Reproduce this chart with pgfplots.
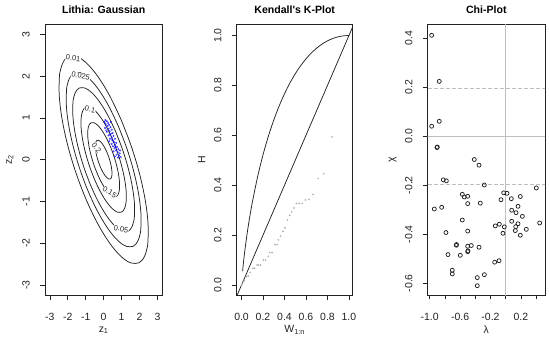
\documentclass[border=0pt]{standalone}
\usepackage{pgfplots}
\pgfplotsset{compat=1.18}
\usepackage{fontspec}
\setmainfont{Liberation Sans}
\definecolor{rgray}{HTML}{BEBEBE}
\definecolor{ink}{HTML}{222222}
\tikzset{lab/.style={fill=white, inner sep=0.4bp, font=\fontsize{7.5}{9}\selectfont, text=ink}}
\begin{document}
\begin{tikzpicture}
\useasboundingbox (0,0) rectangle (550bp,341bp);
\pgfplotsset{
 rp/.style={scale only axis, height=270.7bp, anchor=south west,
   axis line style={ink, line width=0.7bp},
   tick align=outside, major tick length=4.5bp,
   xtick pos=left, ytick pos=left,
   every tick/.style={ink, line width=0.6bp},
   tick label style={font=\fontsize{10.5}{12}\selectfont, text=ink},
   xticklabel style={anchor=center, yshift=-17bp},
   yticklabel style={xshift=-14.5bp, rotate=90, anchor=center},
   label style={font=\fontsize{10.5}{12}\selectfont, text=ink},
   xlabel style={at={(axis description cs:0.5,-0.13)}, anchor=center},
   ylabel style={at={(axis description cs:-0.30,0.5)}, anchor=center},
   title style={font=\fontsize{10.6}{12}\selectfont\bfseries, at={(axis description cs:0.5,1)}, anchor=center, yshift=8.8bp},
 },
 cl/.style={ink, line width=0.75bp, smooth, tension=0.6},
}
% ---------------- Panel 1 ----------------
\begin{axis}[rp, at={(45bp,46bp)}, width=117.3bp,
  xmin=-3.27, xmax=3.27, ymin=-3.24, ymax=3.24,
  xtick={-3,-2,-1,0,1,2,3}, xticklabels={-3,-2,-1,0,1,2,3},
  ytick={-3,-2,-1,0,1,2,3}, yticklabels={-3,-2,-1,0,1,2,3},
  title={Lithia: Gaussian}, xlabel={z\textsubscript{1}}, ylabel={z\textsubscript{2}}]
\addplot[cl] coordinates {(0.9649,0.9649)(0.3375,1.5266)(-0.3128,1.9843)(-0.9420,2.3067)(-1.5069,2.4718)(-1.9690,2.4686)(-2.1515,2.4033)(-2.2971,2.2971)(-2.4033,2.1515)(-2.4686,1.9690)(-2.4718,1.5069)(-2.3067,0.9420)(-1.9843,0.3128)(-1.5266,-0.3375)(-0.9649,-0.9649)(-0.3375,-1.5266)(0.3128,-1.9843)(0.9420,-2.3067)(1.5069,-2.4718)(1.9690,-2.4686)(2.1515,-2.4033)(2.2971,-2.2971)(2.4033,-2.1515)(2.4686,-1.9690)(2.4718,-1.5069)(2.3067,-0.9420)(1.9843,-0.3128)(1.5266,0.3375)(0.9649,0.9649)};
\addplot[cl] coordinates {(0.8101,0.8101)(0.2834,1.2817)(-0.2626,1.6659)(-0.7908,1.9366)(-1.2651,2.0752)(-1.6530,2.0725)(-1.8063,2.0177)(-1.9285,1.9285)(-2.0177,1.8063)(-2.0725,1.6530)(-2.0752,1.2651)(-1.9366,0.7908)(-1.6659,0.2626)(-1.2817,-0.2834)(-0.8101,-0.8101)(-0.2834,-1.2817)(0.2626,-1.6659)(0.7908,-1.9366)(1.2651,-2.0752)(1.6530,-2.0725)(1.8063,-2.0177)(1.9285,-1.9285)(2.0177,-1.8063)(2.0725,-1.6530)(2.0752,-1.2651)(1.9366,-0.7908)(1.6659,-0.2626)(1.2817,0.2834)(0.8101,0.8101)};
\addplot[cl] coordinates {(0.6696,0.6696)(0.2342,1.0594)(-0.2171,1.3769)(-0.6536,1.6007)(-1.0457,1.7152)(-1.3663,1.7130)(-1.4930,1.6677)(-1.5940,1.5940)(-1.6677,1.4930)(-1.7130,1.3663)(-1.7152,1.0457)(-1.6007,0.6536)(-1.3769,0.2171)(-1.0594,-0.2342)(-0.6696,-0.6696)(-0.2342,-1.0594)(0.2171,-1.3769)(0.6536,-1.6007)(1.0457,-1.7152)(1.3663,-1.7130)(1.4930,-1.6677)(1.5940,-1.5940)(1.6677,-1.4930)(1.7130,-1.3663)(1.7152,-1.0457)(1.6007,-0.6536)(1.3769,-0.2171)(1.0594,0.2342)(0.6696,0.6696)};
\addplot[cl] coordinates {(0.4903,0.4903)(0.1715,0.7757)(-0.1589,1.0083)(-0.4786,1.1721)(-0.7657,1.2560)(-1.0005,1.2544)(-1.0932,1.2212)(-1.1672,1.1672)(-1.2212,1.0932)(-1.2544,1.0005)(-1.2560,0.7657)(-1.1721,0.4786)(-1.0083,0.1589)(-0.7757,-0.1715)(-0.4903,-0.4903)(-0.1715,-0.7757)(0.1589,-1.0083)(0.4786,-1.1721)(0.7657,-1.2560)(1.0005,-1.2544)(1.0932,-1.2212)(1.1672,-1.1672)(1.2212,-1.0932)(1.2544,-1.0005)(1.2560,-0.7657)(1.1721,-0.4786)(1.0083,-0.1589)(0.7757,0.1715)(0.4903,0.4903)};
\addplot[cl] coordinates {(0.3446,0.3446)(0.1206,0.5453)(-0.1117,0.7087)(-0.3364,0.8239)(-0.5382,0.8828)(-0.7033,0.8817)(-0.7685,0.8584)(-0.8204,0.8204)(-0.8584,0.7685)(-0.8817,0.7033)(-0.8828,0.5382)(-0.8239,0.3364)(-0.7087,0.1117)(-0.5453,-0.1206)(-0.3446,-0.3446)(-0.1206,-0.5453)(0.1117,-0.7087)(0.3364,-0.8239)(0.5382,-0.8828)(0.7033,-0.8817)(0.7685,-0.8584)(0.8204,-0.8204)(0.8584,-0.7685)(0.8817,-0.7033)(0.8828,-0.5382)(0.8239,-0.3364)(0.7087,-0.1117)(0.5453,0.1206)(0.3446,0.3446)};
\addplot[cl] coordinates {(0.1802,0.1802)(0.0630,0.2851)(-0.0584,0.3706)(-0.1759,0.4308)(-0.2814,0.4616)(-0.3677,0.4610)(-0.4018,0.4488)(-0.4290,0.4290)(-0.4488,0.4018)(-0.4610,0.3677)(-0.4616,0.2814)(-0.4308,0.1759)(-0.3706,0.0584)(-0.2851,-0.0630)(-0.1802,-0.1802)(-0.0630,-0.2851)(0.0584,-0.3706)(0.1759,-0.4308)(0.2814,-0.4616)(0.3677,-0.4610)(0.4018,-0.4488)(0.4290,-0.4290)(0.4488,-0.4018)(0.4610,-0.3677)(0.4616,-0.2814)(0.4308,-0.1759)(0.3706,-0.0584)(0.2851,0.0630)(0.1802,0.1802)};
\node[lab, rotate=-6] at (axis cs:-1.70,2.43) {0.01};
\node[lab, rotate=-12] at (axis cs:-1.28,2.0) {0.025};
\node[lab, rotate=-12] at (axis cs:-0.76,1.20) {0.1};
\node[lab, rotate=-10] at (axis cs:0.97,-1.66) {0.05};
\node[lab, rotate=-30] at (axis cs:0.34,-0.78) {0.15};
\node[lab, rotate=-50] at (axis cs:-0.40,0.28) {0.2};
\addplot[only marks, mark=o, mark size=0.8bp, blue, mark options={line width=0.3bp}] coordinates {
(0.10,0.95)(0.18,0.92)(0.05,0.90)(0.25,0.88)(0.12,0.85)(0.30,0.83)(0.20,0.80)(0.38,0.78)(0.08,0.76)(0.28,0.74)(0.45,0.72)(0.33,0.68)(0.18,0.66)(0.50,0.64)(0.40,0.62)(0.27,0.58)(0.55,0.57)(0.44,0.53)(0.35,0.50)(0.62,0.50)(0.50,0.46)(0.30,0.44)(0.58,0.42)(0.70,0.40)(0.45,0.38)(0.64,0.35)(0.52,0.32)(0.75,0.30)(0.60,0.27)(0.82,0.25)(0.68,0.22)(0.55,0.20)(0.78,0.18)(0.90,0.15)(0.72,0.12)(0.85,0.10)(0.95,0.06)(0.80,0.05)(0.62,0.08)(0.92,0.22)(0.40,0.90)(0.15,0.70)(0.35,0.60)(0.48,0.48)(0.66,0.30)};
\end{axis}
% ---------------- Panel 2 ----------------
\begin{axis}[rp, at={(236.7bp,46bp)}, width=116bp,
  xmin=-0.045, xmax=1.035, ymin=-0.04, ymax=1.045,
  xtick={0,0.2,0.4,0.6,0.8,1}, xticklabels={0.0,0.2,0.4,0.6,0.8,1.0},
  ytick={0,0.2,0.4,0.6,0.8,1}, yticklabels={0.0,0.2,0.4,0.6,0.8,1.0},
  title={Kendall\textquotesingle s K-Plot}, xlabel={W\textsubscript{1:n}}, ylabel={H}]
\addplot[ink, line width=0.75bp] coordinates {(-0.05,-0.05)(1.05,1.05)};
\addplot[ink, line width=0.75bp, smooth] coordinates {(0.01,0.05605)(0.02,0.09824)(0.03,0.1352)(0.05,0.19979)(0.07,0.25615)(0.1,0.33026)(0.15,0.43457)(0.2,0.52189)(0.25,0.59657)(0.3,0.66119)(0.35,0.71744)(0.4,0.76652)(0.45,0.80933)(0.5,0.84657)(0.55,0.87881)(0.6,0.9065)(0.65,0.93001)(0.7,0.94967)(0.75,0.96576)(0.8,0.97851)(0.85,0.98814)(0.9,0.99482)(0.95,0.99873)(1.0,1.0)};
\addplot[only marks, mark=*, mark size=0.65bp, gray!60] coordinates {
(0.000,0.000)(0.008,0.004)(0.013,0.015)(0.025,0.016)(0.047,0.034)(0.063,0.036)(0.081,0.050)(0.107,0.067)(0.121,0.067)(0.144,0.080)(0.159,0.080)(0.178,0.080)(0.203,0.100)(0.224,0.100)(0.250,0.115)(0.262,0.130)(0.284,0.130)(0.312,0.162)(0.331,0.162)(0.343,0.181)(0.364,0.196)(0.386,0.215)(0.405,0.229)(0.427,0.261)(0.449,0.279)(0.467,0.293)(0.489,0.309)(0.511,0.327)(0.536,0.327)(0.564,0.327)(0.595,0.341)(0.629,0.343)(0.667,0.363)(0.714,0.427)(0.766,0.446)(0.841,0.594)};
\end{axis}
% ---------------- Panel 3 ----------------
\begin{axis}[rp, at={(427.7bp,46bp)}, width=117.3bp,
  xmin=-1.026, xmax=0.517, ymin=-0.648, ymax=0.457,
  xtick={-1,-0.8,-0.6,-0.4,-0.2,0,0.2,0.4}, xticklabels={-1.0,,-0.6,,-0.2,,0.2,},
  ytick={-0.6,-0.4,-0.2,0,0.2,0.4}, yticklabels={-0.6,-0.4,-0.2,0.0,0.2,0.4},
  title={Chi-Plot}, xlabel={λ}, ylabel={χ}]
\addplot[rgray, line width=0.7bp] coordinates {(-1.1,0)(0.6,0)};
\addplot[rgray, line width=0.7bp] coordinates {(0,-0.7)(0,0.5)};
\addplot[rgray, line width=0.7bp, dash pattern=on 3.5bp off 2.5bp] coordinates {(-1.1,0.196)(0.6,0.196)};
\addplot[rgray, line width=0.7bp, dash pattern=on 3.5bp off 2.5bp] coordinates {(-1.1,-0.196)(0.6,-0.196)};
\addplot[only marks, mark=o, mark size=2.0bp, ink, mark options={line width=0.75bp}] coordinates {
(-0.974,0.412)(-0.874,0.224)(-0.874,0.061)(-0.974,0.041)(-0.904,-0.046)(-0.900,-0.044)(-0.413,-0.095)(-0.351,-0.118)(-0.821,-0.178)(-0.781,-0.182)(-0.281,-0.199)(0.403,-0.211)(-0.571,-0.237)(-0.500,-0.245)(-0.545,-0.248)(-0.026,-0.231)(0.017,-0.233)(0.192,-0.246)(0.074,-0.255)(-0.062,-0.259)(-0.500,-0.275)(-0.334,-0.273)(0.162,-0.286)(-0.939,-0.297)(-0.842,-0.290)(0.079,-0.302)(0.136,-0.312)(0.219,-0.327)(-0.571,-0.342)(0.079,-0.347)(0.162,-0.357)(0.447,-0.354)(-0.137,-0.366)(-0.084,-0.359)(-0.018,-0.370)(0.132,-0.369)(0.271,-0.380)(0.126,-0.385)(-0.786,-0.393)(-0.500,-0.387)(-0.036,-0.396)(0.192,-0.404)(-0.650,-0.445)(-0.647,-0.442)(-0.500,-0.449)(-0.453,-0.446)(-0.351,-0.453)(-0.500,-0.471)(-0.497,-0.468)(-0.759,-0.483)(-0.597,-0.486)(-0.145,-0.514)(-0.088,-0.508)(-0.703,-0.547)(-0.703,-0.562)(-0.281,-0.565)(-0.374,-0.577)(-0.374,-0.610)};
\end{axis}
\end{tikzpicture}
\end{document}
